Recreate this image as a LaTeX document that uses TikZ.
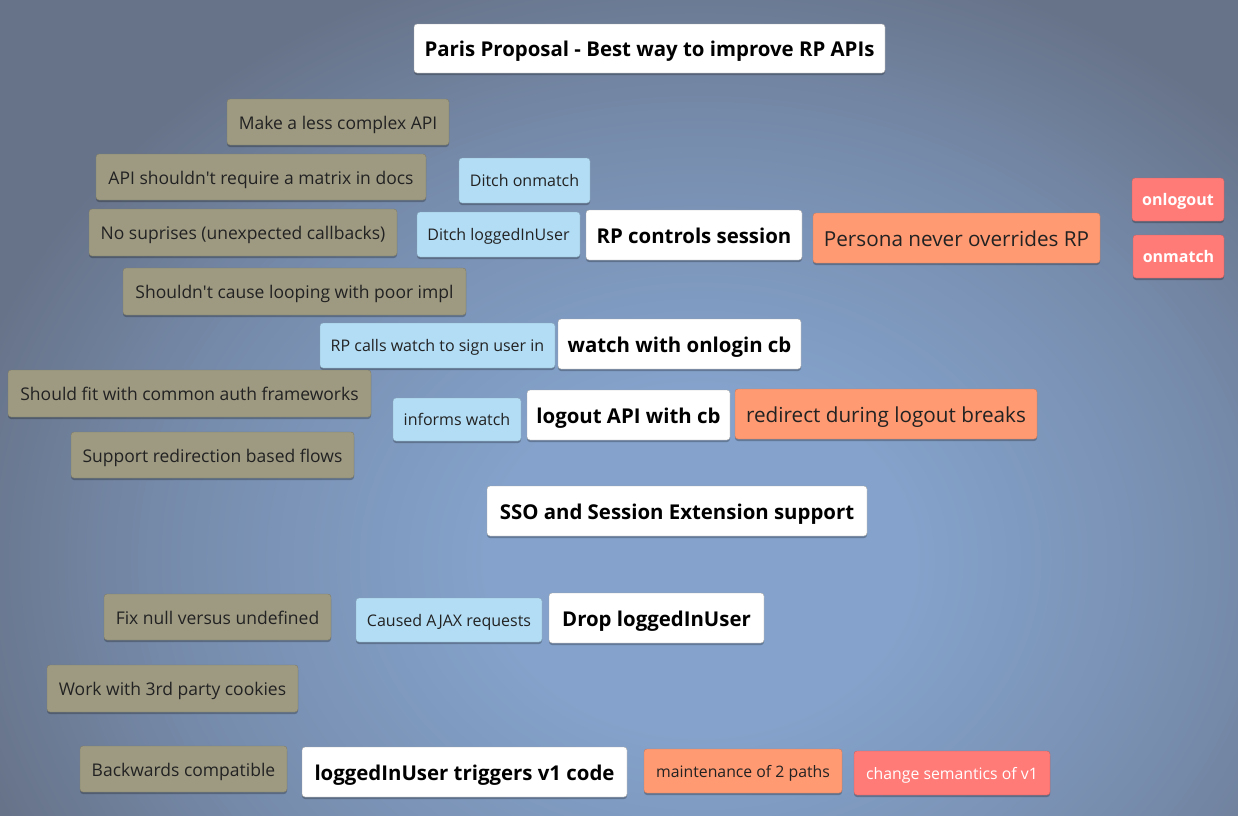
\documentclass[tikz,border=0pt]{standalone}
\usepackage{fontspec}
\setmainfont{Open Sans}
\usetikzlibrary{shadows}
\definecolor{bgdark}{HTML}{677389}
\definecolor{bglight}{HTML}{84A2CB}
\definecolor{tanc}{HTML}{9E9A82}
\definecolor{bluec}{HTML}{B3DDF5}
\definecolor{orangec}{HTML}{FF9A72}
\definecolor{redc}{HTML}{FF7B78}
\definecolor{txt}{HTML}{222222}
\pgfdeclareradialshading{bgshade}{\pgfpoint{0bp}{0bp}}{color(0bp)=(bglight); color(7bp)=(bglight); color(17bp)=(bglight!55!bgdark); color(25bp)=(bgdark); color(50bp)=(bgdark)}
\tikzset{
  note/.style={rounded corners=3pt, inner sep=0pt, align=center, text=txt,
    drop shadow={shadow xshift=0pt, shadow yshift=-2pt, opacity=0.25, fill=black}},
  tannote/.style={note, fill=tanc, draw=tanc!80!black, font=\fontsize{17.5}{19}\selectfont, text height=15.75pt, text depth=1.75pt},
  bluenote/.style={note, fill=bluec, draw=bluec!75!black, font=\fontsize{16}{18}\selectfont, text height=14.4pt, text depth=1.6pt},
  whitenote/.style={note, fill=white, draw=black!35, text=black, font=\fontsize{20.4}{23}\selectfont\bfseries, text height=18.4pt, text depth=2pt},
  orangenote/.style={note, fill=orangec, draw=orangec!80!black, font=\fontsize{20.7}{23}\selectfont, text height=18.6pt, text depth=2.1pt},
  orangesmall/.style={note, fill=orangec, draw=orangec!80!black, font=\fontsize{15.8}{18}\selectfont, text height=14.2pt, text depth=1.6pt},
  rednote/.style={note, fill=redc, draw=redc!80!black, text=white, font=\fontsize{15.8}{18}\selectfont, text height=14.2pt, text depth=1.6pt},
  redbold/.style={note, fill=redc, draw=redc!80!black, text=white, font=\fontsize{16}{18}\selectfont\bfseries, text height=14.4pt, text depth=1.6pt},
}
\newcommand{\nt}[7]{\node[#1, minimum width=#4-#2, minimum height=#5-#3] (#6) at ({(#2+#4)/2},{(#3+#5)/2}) {#7};}
\begin{document}
\begin{tikzpicture}[x=1pt,y=-1pt]
\useasboundingbox (0,0) rectangle (1238,815);
\fill[bgdark] (0,0) rectangle (1238,815);
\begin{scope}
\clip (0,0) rectangle (1238,815);
\shade[shading=bgshade] (-60,-60) rectangle (1460,1180);
\end{scope}
\nt{whitenote}{414}{24}{885}{73}{title}{Paris Proposal - Best way to improve RP APIs}
\nt{tannote}{227}{99}{449}{145}{t1}{Make a less complex API}
\nt{tannote}{96}{154}{426}{200}{t2}{API shouldn\textquotesingle t require a matrix in docs}
\nt{bluenote}{459}{158}{590}{203}{b1}{Ditch onmatch}
\nt{tannote}{89}{209}{397}{256}{t3}{No suprises (unexpected callbacks)}
\nt{bluenote}{417}{212}{580}{257}{b2}{Ditch loggedInUser}
\nt{whitenote}{586}{210}{802}{260}{w1}{RP controls session}
\nt{orangenote}{813}{213}{1100}{263}{o1}{Persona never overrides RP}
\nt{redbold}{1132}{178}{1224}{221}{r1}{onlogout}
\nt{redbold}{1133}{235}{1224}{278}{r2}{onmatch}
\nt{tannote}{123}{268}{466}{315}{t4}{Shouldn\textquotesingle t cause looping with poor impl}
\nt{bluenote}{320}{323}{555}{368}{b3}{RP calls watch to sign user in}
\nt{whitenote}{558}{319}{801}{369}{w2}{watch with onlogin cb}
\nt{tannote}{8}{370}{371}{417}{t5}{Should fit with common auth frameworks}
\nt{bluenote}{393}{398}{521}{441}{b4}{informs watch}
\nt{whitenote}{527}{390}{730}{440}{w3}{logout API with cb}
\nt{orangenote}{735}{389}{1037}{439}{o2}{redirect during logout breaks}
\nt{tannote}{71}{432}{354}{478}{t6}{Support redirection based flows}
\nt{whitenote}{487}{486}{867}{536}{w4}{SSO and Session Extension support}
\nt{tannote}{104}{594}{331}{640}{t7}{Fix null versus undefined}
\nt{bluenote}{356}{598}{542}{642}{b5}{Caused AJAX requests}
\nt{whitenote}{549}{593}{764}{643}{w5}{Drop loggedInUser}
\nt{tannote}{47}{665}{298}{712}{t8}{Work with 3rd party cookies}
\nt{tannote}{80}{746}{287}{792}{t9}{Backwards compatible}
\nt{whitenote}{302}{747}{627}{797}{w6}{loggedInUser triggers v1 code}
\nt{orangesmall}{644}{749}{842}{793}{o3}{maintenance of 2 paths}
\nt{rednote}{854}{751}{1050}{795}{r3}{change semantics of v1}
\end{tikzpicture}
\end{document}
